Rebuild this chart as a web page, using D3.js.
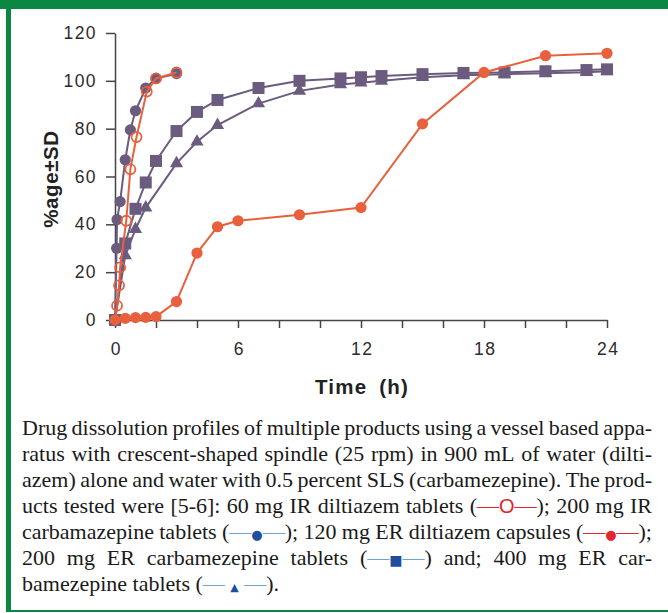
<!DOCTYPE html>
<html>
<head>
<meta charset="utf-8">
<script src="https://cdn.jsdelivr.net/npm/d3@7"></script>
<style>
    body { margin: 0; background: #fff; }
    svg { display: block; }
</style>
</head>
<body>
<svg id="chart" width="668" height="613"></svg>
<script>
// values: time (h) and % dissolved
const irDiltiazemTimes = [0, 0.1, 0.2, 0.25, 0.55, 0.75, 1.05, 1.55, 2, 3];
const irDiltiazemValues = [0, 6, 14.5, 22, 41.5, 63, 76.5, 95.5, 101, 103.5];

const irCarbaTimes = [0, 0.08, 0.1, 0.25, 0.5, 0.75, 1, 1.5, 2, 3];
const irCarbaValues = [0, 30, 42, 49.5, 67, 79.5, 87.5, 97, 101, 103];

const erDiltiazemTimes = [0, 0.5, 1, 1.5, 2, 3, 4, 5, 6, 9, 12, 15, 18, 21, 24];
const erDiltiazemValues = [0, 0.7, 1, 1.1, 1.4, 7.7, 28, 39, 41.5, 44, 47, 82, 103.5, 110.5, 111.5];

const erCarba200Times = [0, 0.5, 1, 1.5, 2, 3, 4, 5, 7, 9, 11, 12, 13, 15, 17, 19, 21, 23, 24];
const erCarba200Values = [0, 32, 46.5, 57.5, 66.5, 79, 87, 92, 97, 100, 101, 101.5, 102, 102.8, 103.3, 103.5, 104, 104.5, 104.8];

const erCarba400Times = [0, 0.5, 1, 1.5, 3, 4, 5, 7, 9, 11, 12, 13, 15, 17, 19, 21, 23, 24];
const erCarba400Values = [0, 27, 38, 47, 65.5, 74.5, 81.5, 90.5, 95.8, 98.5, 99.2, 100, 101.5, 102.3, 102.8, 103.2, 103.6, 104];

const yTicks = [0, 20, 40, 60, 80, 100, 120];
const xTicks = [0, 2, 4, 6, 8, 10, 12, 14, 16, 18, 20, 22, 24];
const xTickLabels = [0, 6, 12, 18, 24];

const captionLines = [
    "Drug dissolution profiles of multiple products using a vessel based appa-",
    "ratus with crescent-shaped spindle (25 rpm) in 900 mL of water (dilti-",
    "azem) alone and water with 0.5 percent SLS (carbamezepine). The prod-",
    "ucts tested were [5-6]: 60 mg IR diltiazem tablets ([irDil]); 200 mg IR",
    "carbamazepine tablets ([irCarba]); 120 mg ER diltiazem capsules ([erDil]);",
    "200 mg ER carbamezepine tablets ([erCarba200]) and; 400 mg ER car-",
    "bamezepine tablets ([erCarba400])."
];

const purple = "#6b5b7e";
const orange = "#e8603c";
const green = "#0a8843";

const svg = d3.select("#chart");
const width = +svg.attr("width");
const height = +svg.attr("height");

svg.append("rect").attr("width", width).attr("height", height).attr("fill", "#fff");

// green frame: thick top bar, left bar, thin bottom rule
svg.append("rect").attr("x", 0).attr("y", 0).attr("width", width).attr("height", 9).attr("fill", green);
svg.append("rect").attr("x", 6).attr("y", 0).attr("width", 5).attr("height", 612).attr("fill", green);
svg.append("rect").attr("x", 6).attr("y", 610).attr("width", width - 6).attr("height", 2).attr("fill", green);

const x = d3.scaleLinear().domain([0, 24]).range([115, 607]);
const y = d3.scaleLinear().domain([0, 120]).range([320, 33]);

const axisColor = "#4a4242";
const tickFont = "'Liberation Sans', Arial, sans-serif";

// y axis
const yAxis = svg.append("g")
    .attr("transform", `translate(${x(0)},0)`)
    .call(d3.axisLeft(y).tickValues(yTicks).tickSize(9).tickPadding(9).tickSizeOuter(0));
yAxis.select(".domain").attr("stroke", axisColor).attr("stroke-width", 1.5);
yAxis.selectAll(".tick line").attr("stroke", axisColor).attr("stroke-width", 1.5);
yAxis.selectAll(".tick text")
    .attr("font-family", tickFont)
    .attr("font-size", 17.5)
    .attr("letter-spacing", 1.4)
    .attr("fill", "#2e2a2a");

// x axis
const xAxis = svg.append("g")
    .attr("transform", `translate(0,${y(0)})`)
    .call(d3.axisBottom(x).tickValues(xTicks).tickSize(8).tickPadding(15).tickSizeOuter(0)
        .tickFormat(d => xTickLabels.includes(d) ? d : ""));
xAxis.select(".domain").attr("stroke", axisColor).attr("stroke-width", 1.5);
xAxis.selectAll(".tick line").attr("stroke", axisColor).attr("stroke-width", 1.5);
xAxis.selectAll(".tick text")
    .attr("font-family", tickFont)
    .attr("font-size", 17.5)
    .attr("letter-spacing", 1.4)
    .attr("dx", 0.7)
    .attr("fill", "#2e2a2a");

// axis titles
svg.append("text")
    .attr("x", 362)
    .attr("y", 394)
    .attr("text-anchor", "middle")
    .attr("font-family", tickFont)
    .attr("font-weight", "bold")
    .attr("font-size", 20.5)
    .attr("letter-spacing", 1.2)
    .attr("word-spacing", 5)
    .attr("fill", "#222")
    .text("Time (h)");

svg.append("text")
    .attr("transform", "translate(58,179) rotate(-90)")
    .attr("text-anchor", "middle")
    .attr("font-family", tickFont)
    .attr("font-weight", "bold")
    .attr("font-size", 20.5)
    .attr("letter-spacing", 0.6)
    .attr("fill", "#222")
    .text("%age\u00b1SD");

// series, drawn back to front
const series = [
    {times: erCarba400Times, values: erCarba400Values, color: purple, marker: "triangle"},
    {times: erCarba200Times, values: erCarba200Values, color: purple, marker: "square"},
    {times: irCarbaTimes, values: irCarbaValues, color: purple, marker: "circle"},
    {times: irDiltiazemTimes, values: irDiltiazemValues, color: orange, marker: "open"},
    {times: erDiltiazemTimes, values: erDiltiazemValues, color: orange, marker: "circle"}
];

const line = d3.line().x(d => x(d[0])).y(d => y(d[1]));
const plot = svg.append("g");

series.forEach(s => {
    const pts = d3.zip(s.times, s.values);
    const g = plot.append("g");
    g.append("path")
        .datum(pts)
        .attr("d", line)
        .attr("fill", "none")
        .attr("stroke", s.color)
        .attr("stroke-width", 2);

    if (s.marker === "circle") {
        g.selectAll("circle").data(pts).enter().append("circle")
            .attr("cx", d => x(d[0])).attr("cy", d => y(d[1]))
            .attr("r", 5.6)
            .attr("fill", s.color);
    } else if (s.marker === "open") {
        g.selectAll("circle").data(pts.slice(1)).enter().append("circle")
            .attr("cx", d => x(d[0])).attr("cy", d => y(d[1]))
            .attr("r", 5)
            .attr("fill", "none")
            .attr("stroke", s.color)
            .attr("stroke-width", 1.8);
    } else if (s.marker === "square") {
        g.selectAll("rect").data(pts).enter().append("rect")
            .attr("x", d => x(d[0]) - 6).attr("y", d => y(d[1]) - 6)
            .attr("width", 12).attr("height", 12)
            .attr("fill", s.color);
    } else {
        g.selectAll("path.m").data(pts).enter().append("path")
            .attr("class", "m")
            .attr("transform", d => `translate(${x(d[0])},${y(d[1])})`)
            .attr("d", d3.symbol().type(d3.symbolTriangle).size(75))
            .attr("fill", s.color);
    }
});

// caption with inline legend keys, justified by hand
const serif = "'Liberation Serif', 'Times New Roman', serif";
const redKey = "#e3262b", blueLine = "#6fa3d8", blueMark = "#1d4f9e";
const keys = {
    irDil: [["\u2014", redKey], ["O", redKey, "'Liberation Sans', sans-serif", 20], ["\u2014", redKey]],
    irCarba: [["\u2014", blueLine], ["\u25cf", blueMark, "'DejaVu Sans', sans-serif", 13], ["\u2014", blueLine]],
    erDil: [["\u2014", redKey], ["\u25cf", redKey, "'DejaVu Sans', sans-serif", 13], ["\u2014", redKey]],
    erCarba200: [["\u2014", blueLine], ["\u25a0", blueMark, "'DejaVu Sans', sans-serif", 14], ["\u2014", blueLine]],
    erCarba400: [["\u2014 ", blueLine], ["\u25b2", blueMark, "'DejaVu Sans', sans-serif", 11], [" \u2014", blueLine]]
};

const capLeft = 22, capRight = 652, capTop = 435, capStep = 26;
const caption = svg.append("g")
    .attr("font-family", serif)
    .attr("font-size", 22)
    .attr("fill", "#1a1a1a");

captionLines.forEach((txt, i) => {
    const words = txt.split(" ");
    const nodes = words.map(w => {
        const t = caption.append("text").attr("y", capTop + i * capStep);
        w.split(/(\[\w+\])/).filter(p => p !== "").forEach(p => {
            const m = p.match(/^\[(\w+)\]$/);
            if (m) {
                keys[m[1]].forEach(k => {
                    const ts = t.append("tspan").attr("fill", k[1]).text(k[0]);
                    if (k[2]) ts.attr("font-family", k[2]).attr("font-size", k[3]);
                });
            } else {
                t.append("tspan").text(p);
            }
        });
        return t;
    });
    const widths = nodes.map(t => t.node().getComputedTextLength());
    const total = d3.sum(widths);
    const last = i === captionLines.length - 1;
    const gap = last ? 5.5 : Math.max(2.5, (capRight - capLeft - total) / (nodes.length - 1));
    let cx = capLeft;
    nodes.forEach((t, j) => {
        t.attr("x", cx);
        cx += widths[j] + gap;
    });
});
</script>
</body>
</html>
